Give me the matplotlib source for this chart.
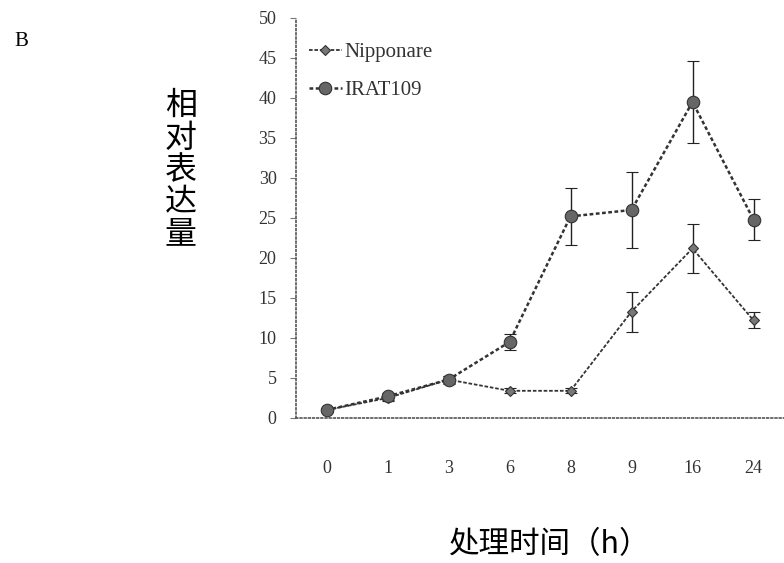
import matplotlib
matplotlib.use("Agg")
import numpy as np
import matplotlib.pyplot as plt
from matplotlib.lines import Line2D

plt.rcParams['font.family'] = ['Liberation Serif', 'Noto Sans CJK SC', 'DejaVu Sans']

# time points (categorical)
time_labels = ["0", "1", "3", "6", "8", "9", "16", "24"]

nipponare = [1.0, 2.5, 4.8, 3.4, 3.4, 13.3, 21.2, 12.2]
nipponare_err = [0.3, 0.4, 0.4, 0.3, 0.3, 2.5, 3.1, 1.0]

irat109 = [1.0, 2.7, 4.8, 9.5, 25.2, 26.0, 39.5, 24.8]
irat109_err = [0.3, 0.4, 0.5, 1.0, 3.6, 4.7, 5.1, 2.6]

fig = plt.figure(figsize=(7.84, 5.63), dpi=100)
ax = fig.add_axes([296 / 784, 1 - 418 / 563, 488 / 784, 400 / 563])

x = np.arange(len(time_labels))

nip_style = dict(color='#333333', linestyle=(0, (2, 1)), linewidth=1.3,
                 marker='D', markersize=5, markerfacecolor='#777777',
                 markeredgecolor='#333333', markeredgewidth=0.8)
irat_style = dict(color='#333333', linestyle=(0, (1.5, 1)), linewidth=1.8,
                  marker='o', markersize=9, markerfacecolor='#666666',
                  markeredgecolor='#333333', markeredgewidth=0.8)

ax.errorbar(x, nipponare, yerr=nipponare_err, ecolor='#222222', elinewidth=1.0,
            capsize=4, capthick=1.0, zorder=3, **nip_style)
ax.errorbar(x, irat109, yerr=irat109_err, ecolor='#222222', elinewidth=1.0,
            capsize=4, capthick=1.0, zorder=4, **irat_style)

ax.set_xlim(-0.5, 7.5)
ax.set_ylim(0, 50)
ax.set_xticks(x)
ax.set_xticklabels(time_labels)
ax.set_yticks(np.arange(0, 51, 5))

for side in ['top', 'right']:
    ax.spines[side].set_visible(False)
for side in ['left', 'bottom']:
    ax.spines[side].set_linestyle((0, (1, 1.5)))
    ax.spines[side].set_color('#555555')
    ax.spines[side].set_linewidth(1.2)

ax.tick_params(axis='y', direction='out', length=4, width=0.8, color='#777777',
               labelsize=13, pad=10, labelcolor='#333333')
ax.tick_params(axis='x', length=0, labelsize=13, pad=30, labelcolor='#333333')

handles = [Line2D([], [], **nip_style), Line2D([], [], **irat_style)]
ax.legend(handles, ['Nipponare', 'IRAT109'], loc='upper left',
          bbox_to_anchor=(0.0, 0.97), frameon=False, fontsize=15,
          handlelength=1.6, handletextpad=0.1, labelspacing=0.9,
          borderaxespad=0.2, labelcolor='#333333')

# y label, characters stacked vertically
fig.text(181 / 784, 1 - 170 / 563, "\n".join("相对表达量"), fontsize=23,
         ha='center', va='center', linespacing=1.0,
         family=['Noto Sans CJK SC', 'DejaVu Sans'])

fig.text(550 / 784, 1 - 545 / 563, "处理时间（h）", fontsize=22,
         ha='center', va='center', family=['Noto Sans CJK SC', 'DejaVu Sans'])

fig.text(21 / 784, 1 - 42 / 563, "B", fontsize=15, ha='center', va='center')

fig.savefig("out.png", dpi=100)
